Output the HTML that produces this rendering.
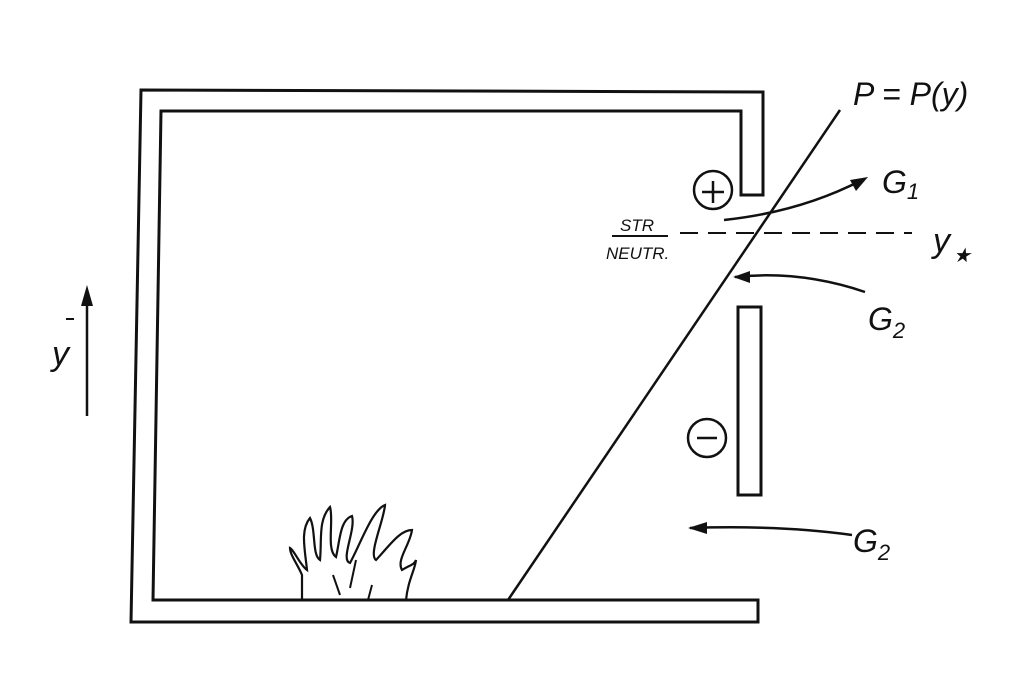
<!DOCTYPE html>
<html><head><style>
html,body{margin:0;padding:0;background:#fff;}
svg{display:block;}
text{font-family:"Liberation Sans",sans-serif;font-style:italic;fill:#111;}
</style></head><body>
<svg width="1031" height="689" viewBox="0 0 1031 689">
<g fill="none" stroke="#111" stroke-width="3" stroke-linejoin="miter">
<path d="M141,90 L763,92 L763,195 L741,195 L741,111 L161,111 L153,600 L758,600 L758,622 L131,622 Z"/>
<rect x="738" y="307" width="23" height="188"/>
<line x1="508" y1="600" x2="840" y2="110" stroke-width="2.5"/>
<line x1="680" y1="233" x2="912" y2="233" stroke-width="2" stroke-dasharray="18,10"/>
<circle cx="713" cy="190" r="19" stroke-width="2.5"/>
<line x1="702" y1="192" x2="724" y2="192" stroke-width="2.5"/>
<line x1="713" y1="181" x2="713" y2="203" stroke-width="2.5"/>
<circle cx="707" cy="438" r="19" stroke-width="2.5"/>
<line x1="697" y1="438" x2="717" y2="438" stroke-width="2.5"/>
<path d="M724,220 Q800,212 862,180" stroke-width="2.5"/>
<path d="M865,292 Q800,270 735,277" stroke-width="2.5"/>
<path d="M852,535 Q780,525 690,528" stroke-width="2.5"/>
<line x1="87" y1="416" x2="87" y2="295" stroke-width="2.5"/>
<line x1="612" y1="236" x2="668" y2="236" stroke-width="2"/>
<path d="M302,600 L302,575 C298,565 290,555 290,548 C294,550 300,565 307,570 C305,550 300,530 310,518 C316,530 312,555 320,560 C322,540 318,520 330,507 C334,520 326,550 336,557 C340,540 340,520 352,516 C356,530 340,560 350,563 C360,545 372,510 385,505 C384,520 368,555 376,560 C390,545 400,530 412,530 C410,545 396,560 402,570 C410,565 414,565 416,560 C415,570 408,580 406,600" stroke-width="2.2"/>
<path d="M333,575 L340,595 M372,585 L368,600 M356,560 L350,588" stroke-width="2"/>
</g>
<polygon points="868,177 850,180 856,191" fill="#111"/>
<polygon points="733,277 750,271 750,283" fill="#111"/>
<polygon points="688,528 707,522 707,534" fill="#111"/>
<polygon points="87,285 81,306 93,306" fill="#111"/>
<text x="853" y="105" font-size="32">P = P(y)</text>
<text x="882" y="193" font-size="32">G<tspan font-size="22" dy="6">1</tspan></text>
<text x="933" y="252" font-size="34">y</text><text x="953" y="262" font-size="20" font-style="normal">★</text>
<text x="868" y="330" font-size="32">G<tspan font-size="22" dy="8">2</tspan></text>
<text x="853" y="552" font-size="32">G<tspan font-size="22" dy="8">2</tspan></text>
<text x="620" y="231" font-size="17">STR</text>
<text x="606" y="259" font-size="17">NEUTR.</text>
<text x="52" y="365" font-size="34">y</text>
<line x1="66" y1="319" x2="74" y2="319" stroke="#111" stroke-width="2"/>
</svg>
</body></html>
